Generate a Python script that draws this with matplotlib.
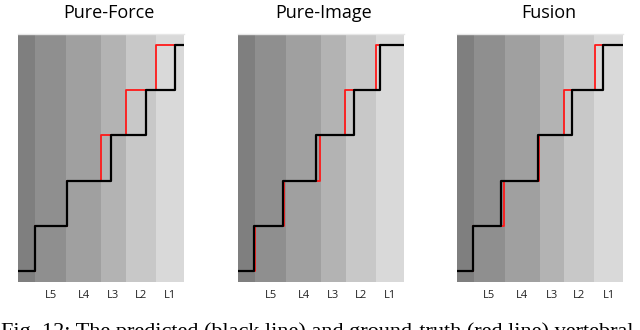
import matplotlib
matplotlib.use("Agg")
import matplotlib.pyplot as plt

titles = ["Pure-Force", "Pure-Image", "Fusion"]
level_labels = ["L5", "L4", "L3", "L2", "L1"]
band_edges = [0, 10.2, 29.2, 50.0, 64.8, 83.0, 100.0]
band_colors = ["#7f7f7f", "#8f8f8f", "#a0a0a0", "#b3b3b3", "#c8c8c8", "#d9d9d9"]
levels = [0, 1, 2, 3, 4, 5, 5]

pred_force = [10.2, 29.3, 56.0, 76.9, 94.6]
gt_force = [10.5, 29.3, 50.0, 64.9, 83.0]
pred_image = [9.6, 26.9, 47.0, 69.7, 85.4]
gt_image = [10.2, 27.9, 49.4, 64.5, 83.0]
pred_fusion = [9.6, 26.5, 49.2, 69.7, 88.4]
gt_fusion = [10.1, 28.5, 49.8, 64.9, 83.1]

preds = [pred_force, pred_image, pred_fusion]
gts = [gt_force, gt_image, gt_fusion]

caption = "Fig. 12: The predicted (black line) and ground-truth (red line) vertebral"

W, H = 640, 330
fig = plt.figure(figsize=(W / 100, H / 100), dpi=100)

lefts = [18, 238, 456.7]
title_x = [109, 324, 549]
ax_w, ax_top, ax_bot = 166, 34, 282

for i in range(3):
    ax = fig.add_axes([lefts[i] / W, 1 - ax_bot / H, ax_w / W, (ax_bot - ax_top) / H])
    for j in range(6):
        ax.axvspan(band_edges[j], band_edges[j + 1], color=band_colors[j], lw=0, zorder=0)
    ax.axhline(5.25, color="#e6e6e6", lw=1.0, zorder=1, clip_on=False)
    xg = [0] + gts[i] + [100]
    xp = [0] + preds[i] + [100]
    ax.step(xg, levels, where="post", color="#ff1a1a", lw=1.3, zorder=2)
    ax.step(xp, levels, where="post", color="black", lw=1.6, zorder=3)
    ax.set_xlim(0, 100)
    ax.set_ylim(-0.25, 5.25)
    ax.set_xticks([])
    ax.set_yticks([])
    for s in ax.spines.values():
        s.set_visible(False)
    for k, lab in enumerate(level_labels):
        cx = (band_edges[k + 1] + band_edges[k + 2]) / 2
        ax.text(cx, -0.6, lab, ha="center", va="baseline", fontsize=8,
                family="Open Sans", color="#222222")
    fig.text(title_x[i] / W, 1 - 18.5 / H, titles[i], ha="center", va="baseline",
             fontsize=13, family="Open Sans", color="black")

fig.text(0.002, 1 - 337.5 / H, caption, ha="left", va="baseline", fontsize=16,
         family="Liberation Serif", color="black")

fig.savefig("out.png", dpi=100)
